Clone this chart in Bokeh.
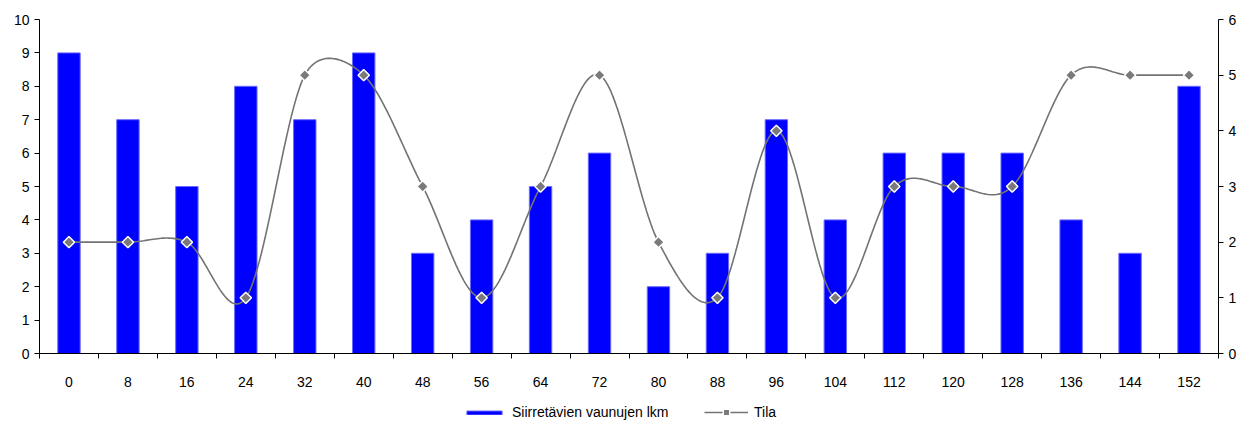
import numpy as np
from bokeh.plotting import figure
from bokeh.layouts import column
from bokeh.models import Range1d, LinearAxis, FixedTicker, Legend, LegendItem
from bokeh.embed import file_html
from bokeh.resources import INLINE

# hours since start (category labels)
hours = [0, 8, 16, 24, 32, 40, 48, 56, 64, 72, 80, 88, 96, 104, 112, 120, 128, 136, 144, 152]
# number of wagons to move (left axis)
wagons = [9, 7, 5, 8, 7, 9, 3, 4, 5, 6, 2, 3, 7, 4, 6, 6, 6, 4, 3, 8]
# state (right axis)
state = [2, 2, 2, 1, 5, 5, 3, 1, 3, 5, 2, 1, 4, 1, 3, 3, 3, 5, 5, 5]

n = len(hours)
idx = list(range(n))

FONT = "Liberation Sans"
FS = "14px"

WIDTH = 1246
CHART_H, LEGEND_H = 400, 26
BORDER = dict(left=39, right=28, top=19, bottom=47)
FRAME_W = WIDTH - BORDER["left"] - BORDER["right"]
FRAME_H = CHART_H - BORDER["top"] - BORDER["bottom"]
TILA_MAX = 6

BAR_STYLE = dict(fill_color="#0000ff", line_color="#6a6aff", line_width=1)
LINE_STYLE = dict(line_color="#737373", line_width=1.6)
MARK_STYLE = dict(marker="square", angle=np.pi / 4, fill_color="#7a7a7a",
                  line_color="white", line_width=1.5)


def smooth_curve(xs, ys, sx, sy, steps=30):
    """Bezier smoothing through the points, computed in screen space.

    Control handles follow the neighbour chord (tension 1/6) but are capped
    at half the length of the segment they belong to.
    """
    P = np.column_stack([np.asarray(xs, float) * sx, np.asarray(ys, float) * sy])
    m = len(P)
    t = np.linspace(0, 1, steps, endpoint=False)[:, None]
    out = []
    for i in range(m - 1):
        p1, p2 = P[i], P[i + 1]
        p0 = P[i - 1] if i > 0 else p1
        p3 = P[i + 2] if i + 2 < m else p2
        d12 = np.hypot(*(p2 - p1))
        d02 = np.hypot(*(p2 - p0))
        d13 = np.hypot(*(p3 - p1))
        k1 = 1 / 6 if d02 / 6 <= d12 / 2 else (d12 / 2) / d02
        k2 = 1 / 6 if d13 / 6 <= d12 / 2 else (d12 / 2) / d13
        c1 = p1 + (p2 - p0) * k1
        c2 = p2 - (p3 - p1) * k2
        seg = ((1 - t) ** 3) * p1 + 3 * ((1 - t) ** 2) * t * c1 + 3 * (1 - t) * t ** 2 * c2 + t ** 3 * p2
        out.append(seg)
    out.append(P[-1][None, :])
    out = np.vstack(out)
    return out[:, 0] / sx, out[:, 1] / sy


# ---- main chart -------------------------------------------------------------
p = figure(
    width=WIDTH, height=CHART_H,
    output_backend="svg", toolbar_location=None,
    x_range=Range1d(-0.5, n - 0.5), y_range=Range1d(0, 10),
    min_border_left=BORDER["left"], min_border_right=BORDER["right"],
    min_border_top=BORDER["top"], min_border_bottom=BORDER["bottom"],
)
p.extra_y_ranges = {"tila": Range1d(0, TILA_MAX)}
p.xgrid.grid_line_color = None
p.ygrid.grid_line_color = None
p.outline_line_color = None
p.background_fill_color = "white"
p.border_fill_color = "white"

# x axis: labels at bar centres, tick marks between categories
xa = p.xaxis[0]
xa.ticker = FixedTicker(ticks=idx, minor_ticks=[i - 0.5 for i in range(n + 1)])
xa.major_label_overrides = {i: str(h) for i, h in enumerate(hours)}
xa.major_tick_out = 0
xa.major_tick_in = 0
xa.minor_tick_out = 5
xa.minor_tick_in = 0
xa.major_label_standoff = 18

# left axis
ya = p.yaxis[0]
ya.ticker = FixedTicker(ticks=list(range(11)))
ya.major_tick_out = 5
ya.major_tick_in = 0
ya.minor_tick_out = 0
ya.minor_tick_in = 0
ya.major_label_standoff = 5

# right axis
ra = LinearAxis(y_range_name="tila", ticker=FixedTicker(ticks=list(range(TILA_MAX + 1))))
ra.major_tick_out = 5
ra.major_tick_in = 0
ra.minor_tick_out = 0
ra.minor_tick_in = 0
ra.major_label_standoff = 5
p.add_layout(ra, "right")

for ax in (xa, ya, ra):
    ax.axis_line_color = "black"
    ax.major_tick_line_color = "black"
    ax.minor_tick_line_color = "black"
    ax.major_label_text_font = FONT
    ax.major_label_text_font_size = FS
    ax.major_label_text_color = "black"

p.vbar(x=idx, top=wagons, width=0.38, **BAR_STYLE)

px_per_x = FRAME_W / n
px_per_y = FRAME_H / TILA_MAX
cx, cy = smooth_curve(idx, state, px_per_x, px_per_y)
p.line(cx, cy, y_range_name="tila", **LINE_STYLE)
p.scatter(idx, state, y_range_name="tila", size=8, **MARK_STYLE)

# ---- legend strip -----------------------------------------------------------
lf = figure(
    width=WIDTH, height=LEGEND_H,
    output_backend="svg", toolbar_location=None,
    x_range=Range1d(0, 1), y_range=Range1d(0, 1),
    x_axis_location=None, y_axis_location=None,
    min_border_left=0, min_border_right=0, min_border_top=0, min_border_bottom=0,
)
lf.xgrid.grid_line_color = None
lf.ygrid.grid_line_color = None
lf.outline_line_color = None
lf.background_fill_color = "white"
lf.border_fill_color = "white"

# legend keys: styled like the chart glyphs, kept outside the strip's visible range
key_bar = lf.vbar(x=[-5], top=[-5], width=0.38, **BAR_STYLE)
key_line = lf.line(x=[-6, -5], y=[-5, -5], **LINE_STYLE)
key_mark = lf.scatter(x=[-5], y=[-5], size=8, **MARK_STYLE)

common = dict(
    orientation="horizontal",
    border_line_color=None,
    background_fill_alpha=0,
    label_text_font=FONT,
    label_text_font_size=FS,
    label_text_color="black",
    label_standoff=6,
    label_height=20,
    glyph_width=44,
    padding=0,
    margin=0,
)
lf.add_layout(Legend(
    items=[LegendItem(label="Siirretävien vaunujen lkm", renderers=[key_bar])],
    location=(423, 4), glyph_height=5, **common,
))
lf.add_layout(Legend(
    items=[LegendItem(label="Tila", renderers=[key_line, key_mark])],
    location=(665, 4), glyph_height=16, **common,
))

layout = column(p, lf, spacing=0)
open("out.html", "w").write(file_html(layout, INLINE))
